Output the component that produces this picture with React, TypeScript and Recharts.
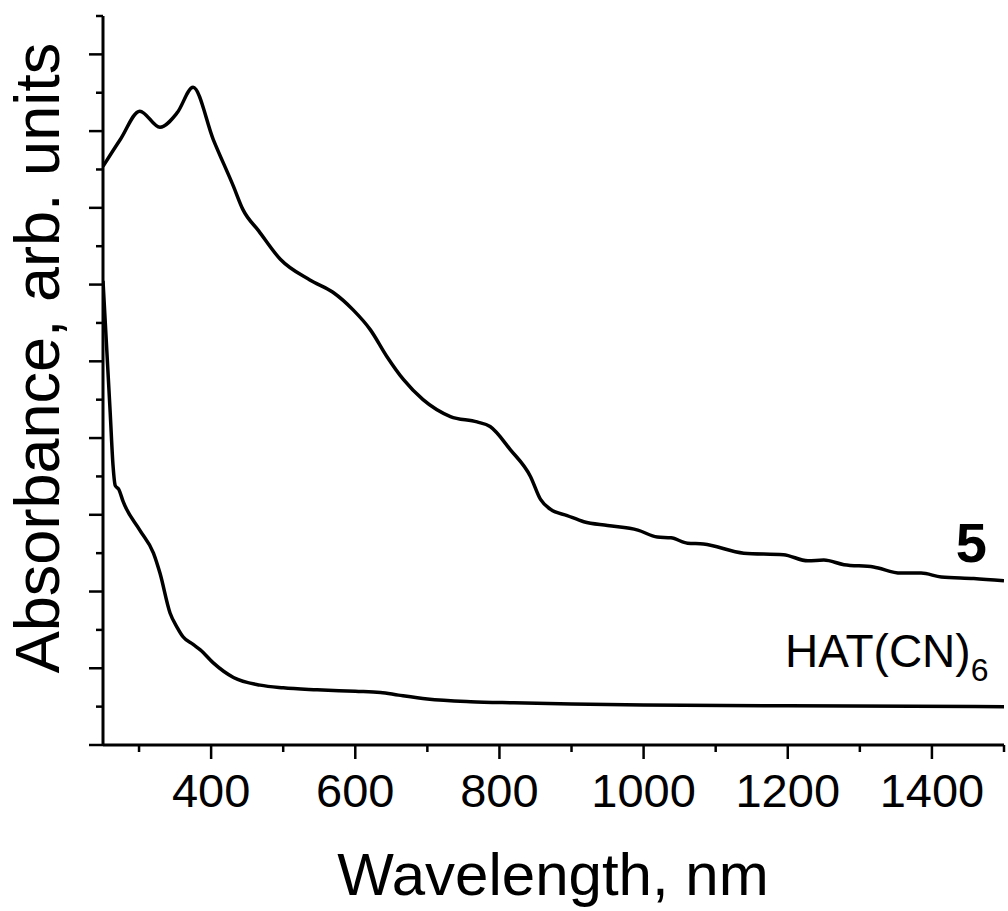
import { Customized, Line, LineChart, XAxis, YAxis } from "recharts";

// compound 5
const wl5 = [250, 274, 301, 329, 353, 375, 403, 431, 444, 466, 496, 537, 569, 597, 621, 644, 667, 694, 732, 769, 787, 815, 843, 857, 871, 894, 917, 950, 992, 1019, 1038, 1061, 1083, 1139, 1194, 1228, 1250, 1278, 1319, 1357, 1385, 1413, 1458, 1500];
const abs5 = [7.54, 7.89, 8.26, 8.05, 8.24, 8.57, 7.89, 7.28, 6.98, 6.7, 6.33, 6.06, 5.9, 5.67, 5.41, 5.06, 4.76, 4.5, 4.28, 4.21, 4.15, 3.85, 3.5, 3.2, 3.07, 2.99, 2.91, 2.86, 2.8, 2.71, 2.7, 2.63, 2.62, 2.5, 2.48, 2.4, 2.41, 2.35, 2.32, 2.24, 2.24, 2.19, 2.17, 2.14];

// HAT(CN)6
const wlHat = [250, 260, 264, 267, 272, 278, 301, 320, 329, 343, 353, 361, 375, 385, 403, 431, 468, 500, 547, 600, 635, 660, 700, 760, 820, 900, 1000, 1200, 1500];
const absHat = [6.05, 4.33, 3.63, 3.38, 3.33, 3.17, 2.8, 2.5, 2.24, 1.72, 1.53, 1.41, 1.31, 1.24, 1.07, 0.88, 0.78, 0.745, 0.72, 0.7, 0.685, 0.65, 0.6, 0.565, 0.55, 0.535, 0.52, 0.51, 0.5];

const xTicks = [300, 400, 500, 600, 700, 800, 900, 1000, 1100, 1200, 1300, 1400, 1500];
const xLabels = [400, 600, 800, 1000, 1200, 1400];
const yTicks = [0, 0.5, 1, 1.5, 2, 2.5, 3, 3.5, 4, 4.5, 5, 5.5, 6, 6.5, 7, 7.5, 8, 8.5, 9, 9.5];

const data5 = wl5.map((x, i) => ({ x, y: abs5[i] }));
const dataHat = wlHat.map((x, i) => ({ x, y: absHat[i] }));

const font = '"Liberation Sans", Arial, sans-serif';

function XTick(props: any) {
  const { x, y, payload } = props;
  const v = payload.value;
  const major = v % 200 === 0;
  return (
    <g>
      <line x1={x} x2={x} y1={y} y2={y + (major ? 14 : 7)} stroke="#000" strokeWidth={2.5} />
      {xLabels.includes(v) && (
        <text x={x} y={y + 62} textAnchor="middle" fontSize={47} fontFamily={font} fill="#000">
          {v}
        </text>
      )}
    </g>
  );
}

function YTick(props: any) {
  const { x, y, payload } = props;
  const major = Number.isInteger(payload.value);
  return <line x1={x - (major ? 14 : 7)} x2={x} y1={y} y2={y} stroke="#000" strokeWidth={2.5} />;
}

function Labels() {
  return (
    <g fontFamily={font} fill="#000">
      <text x={553} y={895} textAnchor="middle" fontSize={60}>
        Wavelength, nm
      </text>
      <text x={59} y={358} textAnchor="middle" fontSize={63} transform="rotate(-90 59 358)">
        Absorbance, arb. units
      </text>
      <text x={987} y={562} textAnchor="end" fontSize={56} fontWeight="bold">
        5
      </text>
      <text x={785} y={667} fontSize={46}>
        HAT(CN)
        <tspan fontSize={32} dy={14}>
          6
        </tspan>
      </text>
    </g>
  );
}

export default function App() {
  return (
    <div style={{ position: "absolute", left: 0, top: 0, width: 1008, height: 911, background: "#fff" }}>
      <LineChart width={1008} height={911} margin={{ left: 43, right: 4, top: 16, bottom: 106 }}>
        <XAxis
          type="number"
          dataKey="x"
          domain={[250, 1500]}
          ticks={xTicks}
          interval={0}
          height={60}
          tickSize={0}
          tickMargin={0}
          tickLine={false}
          tick={<XTick />}
          axisLine={{ stroke: "#000", strokeWidth: 3 }}
          allowDataOverflow
        />
        <YAxis
          type="number"
          domain={[0, 9.5]}
          ticks={yTicks}
          interval={0}
          width={60}
          tickSize={0}
          tickMargin={0}
          tickLine={false}
          tick={<YTick />}
          axisLine={{ stroke: "#000", strokeWidth: 3 }}
          allowDataOverflow
        />
        <Line data={data5} dataKey="y" type="monotone" stroke="#000" strokeWidth={3.5} dot={false} isAnimationActive={false} />
        <Line data={dataHat} dataKey="y" type="monotone" stroke="#000" strokeWidth={3.5} dot={false} isAnimationActive={false} />
        <Customized component={<Labels />} />
      </LineChart>
    </div>
  );
}
